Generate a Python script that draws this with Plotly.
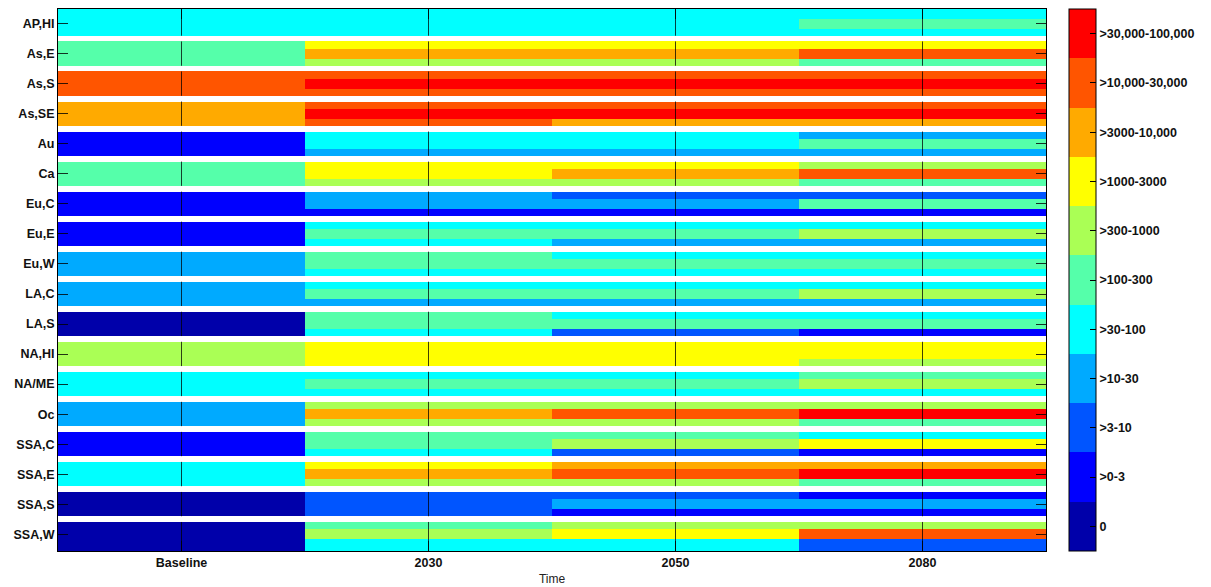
import plotly.graph_objects as go
import numpy as np

# ---------------- data ----------------
regions = ["AP,HI", "As,E", "As,S", "As,SE", "Au", "Ca", "Eu,C", "Eu,E", "Eu,W",
           "LA,C", "LA,S", "NA,HI", "NA/ME", "Oc", "SSA,C", "SSA,E", "SSA,S", "SSA,W"]
periods = ["Baseline", "2030", "2050", "2080"]
class_labels = ["0", ">0-3", ">3-10", ">10-30", ">30-100", ">100-300", ">300-1000",
                ">1000-3000", ">3000-10,000", ">10,000-30,000", ">30,000-100,000"]
class_colors = ["#0000AA", "#0000FF", "#0055FF", "#00AAFF", "#00FFFF", "#55FFAA",
                "#AAFF55", "#FFFF00", "#FFAA00", "#FF5500", "#FF0000"]

# class index (0..10) per region
baseline = [4, 5, 9, 8, 1, 5, 1, 1, 3, 3, 0, 6, 4, 3, 1, 4, 0, 0]
# (top, middle, bottom) sub-rows per region
y2030 = [(4, 4, 4), (7, 8, 6), (9, 10, 9), (9, 10, 9), (4, 4, 3), (7, 7, 6),
         (3, 3, 1), (4, 5, 4), (5, 5, 4), (4, 5, 3), (5, 5, 4), (7, 7, 7),
         (4, 5, 4), (6, 8, 6), (5, 5, 4), (7, 8, 6), (2, 2, 2), (5, 6, 4)]
y2050 = [(4, 4, 4), (7, 8, 6), (9, 10, 9), (9, 10, 8), (4, 4, 3), (7, 8, 6),
         (2, 3, 1), (4, 5, 3), (4, 5, 4), (4, 5, 3), (4, 5, 2), (7, 7, 7),
         (4, 5, 4), (6, 9, 6), (5, 6, 2), (8, 9, 6), (2, 3, 1), (6, 7, 4)]
y2080 = [(4, 5, 4), (7, 9, 5), (9, 10, 9), (9, 10, 8), (3, 5, 3), (6, 9, 5),
         (2, 5, 1), (4, 6, 3), (4, 5, 4), (4, 6, 3), (4, 5, 1), (7, 7, 6),
         (5, 6, 4), (6, 10, 5), (4, 7, 1), (8, 10, 5), (1, 3, 1), (6, 9, 2)]

# ---------------- geometry of sub-rows (in region units) ----------------
n = len(regions)
TOP, M1, M2, BOT = -0.41, -1 / 6, 1 / 6, 0.40
Y_TOP, Y_BOT = -0.49, (n - 1) + 0.557

z = []
y_edges = []
for k in range(n):
    top = Y_TOP if k == 0 else k + TOP
    bot = Y_BOT if k == n - 1 else k + BOT
    y_edges += [top, k + M1, k + M2]
    for s in range(3):
        z.append([baseline[k], y2030[k][s], y2050[k][s], y2080[k][s]])
    y_edges.append(bot)
    if k < n - 1:
        z.append([np.nan] * 4)  # white gap row
x_edges = list(range(len(periods) + 1))
x_centers = [i + 0.5 for i in range(len(periods))]

nc = len(class_colors)
colorscale = []
for i, c in enumerate(class_colors):
    colorscale.append([i / nc, c])
    colorscale.append([(i + 1) / nc, c])

BOLD = dict(family="Liberation Sans", size=12.5, color="#111", weight="bold")

fig = go.Figure()
fig.add_trace(go.Heatmap(
    z=z, x=x_edges, y=y_edges,
    colorscale=colorscale, zmin=-0.5, zmax=nc - 0.5,
    hoverongaps=False,
    colorbar=dict(
        x=1.0233, xanchor="left", y=0.5, yanchor="middle",
        len=1, lenmode="fraction", thickness=27, thicknessmode="pixels",
        ypad=0, xpad=0,
        outlinewidth=1, outlinecolor="black",
        tickmode="array", tickvals=list(range(nc)), ticktext=class_labels,
        ticks="inside", ticklen=6, tickcolor="black",
        tickfont=BOLD,
    ),
))

# vertical grid segments (only over coloured blocks, broken at the white gaps)
gx, gy = [], []
for xc in x_centers:
    for k in range(n):
        top = Y_TOP if k == 0 else k + TOP
        bot = Y_BOT if k == n - 1 else k + BOT
        gx += [xc, xc, None]
        gy += [top, bot, None]
fig.add_trace(go.Scatter(x=gx, y=gy, mode="lines",
                         line=dict(color="rgba(0,0,0,0.75)", width=1),
                         hoverinfo="skip", showlegend=False))

# page body has an 8px margin, so the figure is sized to fit the window from there
fig.update_layout(
    width=1203, height=579,
    margin=dict(l=50, r=165, t=1, b=36),
    paper_bgcolor="white", plot_bgcolor="white",
    showlegend=False,
)
fig.update_xaxes(
    range=[0, len(periods)], tickmode="array", tickvals=x_centers, ticktext=periods,
    showgrid=False, zeroline=False,
    showline=True, linecolor="black", linewidth=1, mirror="ticks",
    ticks="inside", ticklen=10, tickcolor="rgba(0,0,0,0.8)",
    tickfont=BOLD,
    title=dict(text="Time", font=dict(family="Liberation Sans", size=12, color="#222"),
               standoff=5),
)
fig.update_yaxes(
    range=[Y_BOT, Y_TOP], tickmode="array", tickvals=list(range(n)), ticktext=regions,
    showgrid=False, zeroline=False,
    showline=True, linecolor="black", linewidth=1, mirror="ticks",
    ticks="inside", ticklen=10, tickcolor="rgba(0,0,0,0.8)",
    tickfont=BOLD,
)

fig.write_html("out.html")
